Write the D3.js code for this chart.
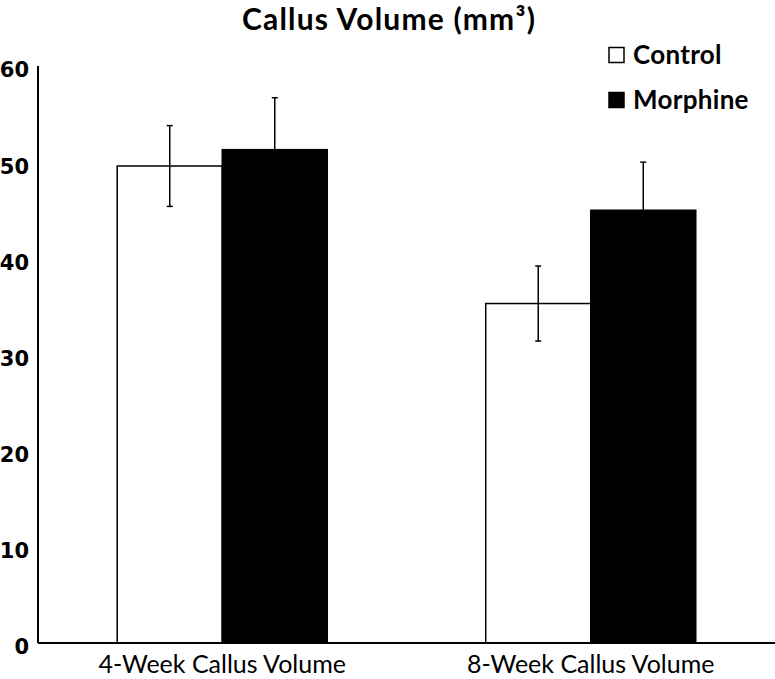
<!DOCTYPE html>
<html>
<head>
<meta charset="utf-8">
<script src="https://cdn.jsdelivr.net/npm/d3@7"></script>
<style>
  body { margin: 0; background: #fff; }
  svg { display: block; }
</style>
</head>
<body>
<svg id="chart" width="775" height="679"></svg>
<script>
const categories = ["4-Week Callus Volume", "8-Week Callus Volume"];
const seriesNames = ["Control", "Morphine"];
const controlValues = [49.6, 35.3];
const controlErrors = [4.2, 3.9];
const morphineValues = [51.3, 45.0];
const morphineErrors = [5.4, 5.0];
const yTicks = [0, 10, 20, 30, 40, 50, 60];
const title = "Callus Volume (mm³)";

const svg = d3.select("#chart");
const W = 775, H = 679;
const margin = { left: 38, right: 0, top: 66, bottom: 36 };
const y0 = H - margin.bottom; // 643

const x = d3.scaleBand().domain(categories).range([margin.left, W])
  .paddingInner(0.43).paddingOuter(0.215);
const xs = d3.scaleBand().domain(seriesNames).range([0, x.bandwidth()]);
const y = d3.scaleLinear().domain([0, 60]).range([y0, margin.top]);

const series = [
  { name: "Control", values: controlValues, errors: controlErrors, fill: "#fff" },
  { name: "Morphine", values: morphineValues, errors: morphineErrors, fill: "#000" }
];

// bars
series.forEach(s => {
  svg.append("g").selectAll("rect").data(categories).join("rect")
    .attr("x", (c) => x(c) + xs(s.name))
    .attr("y", (c, i) => y(s.values[i]))
    .attr("width", xs.bandwidth())
    .attr("height", (c, i) => y0 - y(s.values[i]))
    .attr("fill", s.fill)
    .attr("stroke", "#000")
    .attr("stroke-width", 1.5);
});

// error bars
series.forEach(s => {
  const g = svg.append("g").attr("stroke", "#000").attr("stroke-width", 1.5);
  categories.forEach((c, i) => {
    const cx = x(c) + xs(s.name) + xs.bandwidth() / 2;
    const hi = y(s.values[i] + s.errors[i]);
    const lo = y(s.values[i] - s.errors[i]);
    g.append("line").attr("x1", cx).attr("x2", cx).attr("y1", hi).attr("y2", lo);
    g.append("line").attr("x1", cx - 3).attr("x2", cx + 3).attr("y1", hi).attr("y2", hi);
    g.append("line").attr("x1", cx - 3).attr("x2", cx + 3).attr("y1", lo).attr("y2", lo);
  });
});

// y axis
const yAxis = svg.append("g").attr("transform", `translate(${margin.left},0)`)
  .call(d3.axisLeft(y).tickValues(yTicks).tickSize(0).tickPadding(9));
yAxis.select(".domain").attr("stroke", "#000").attr("stroke-width", 2).attr("d", `M0,${margin.top}V${y0}`);
yAxis.selectAll("text")
  .attr("font-family", "'DejaVu Sans', sans-serif")
  .attr("font-weight", "bold")
  .attr("font-size", 21)
  .attr("dy", "0.52em")
  .attr("fill", "#000");

// x axis
const xAxis = svg.append("g").attr("transform", `translate(0,${y0})`)
  .call(d3.axisBottom(x).tickSize(0).tickPadding(12));
xAxis.select(".domain").attr("stroke", "#000").attr("stroke-width", 2).attr("d", `M${margin.left},0H${W}`);
xAxis.selectAll("text")
  .attr("font-family", "Lato, sans-serif")
  .attr("font-size", 25)
  .attr("fill", "#000");

// title
svg.append("text")
  .attr("x", 389).attr("y", 30)
  .attr("text-anchor", "middle")
  .attr("font-family", "Lato, sans-serif")
  .attr("font-weight", "bold")
  .attr("font-size", 30)
  .attr("letter-spacing", 1.2)
  .text(title);

// legend
const legend = svg.append("g");
series.forEach((s, i) => {
  const ly = 55 + i * 45;
  legend.append("rect")
    .attr("x", 609).attr("y", ly - 7.5).attr("width", 15).attr("height", 15)
    .attr("fill", s.fill).attr("stroke", "#000").attr("stroke-width", 1.5);
  legend.append("text")
    .attr("x", 633).attr("y", ly).attr("dy", "0.36em")
    .attr("font-family", "Lato, sans-serif")
    .attr("font-weight", "bold")
    .attr("font-size", 26)
    .attr("letter-spacing", 0.3)
    .text(s.name);
});
</script>
</body>
</html>
